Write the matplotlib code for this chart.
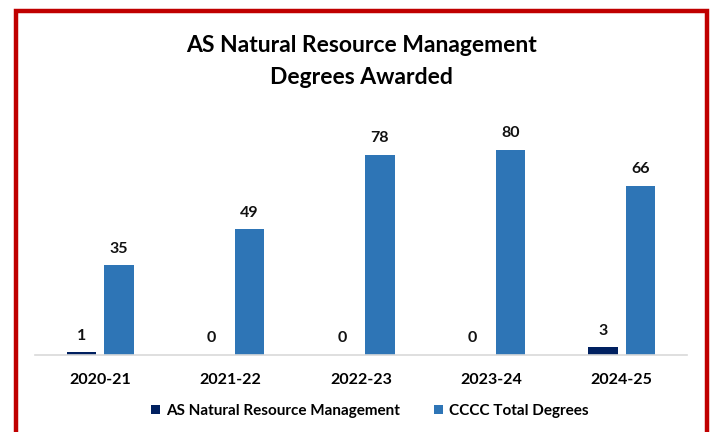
import numpy as np
import matplotlib.pyplot as plt
from matplotlib.patches import Rectangle

# dados
years = ['2020-21', '2021-22', '2022-23', '2023-24', '2024-25']
nrm = [1, 0, 0, 0, 3]
total = [35, 49, 78, 80, 66]
series_names = ['AS Natural Resource Management', 'CCCC Total Degrees']
colors = ['#002060', '#2E75B6']

plt.rcParams['font.family'] = ['Lato', 'DejaVu Sans']

fig = plt.figure(figsize=(7.11, 4.32), dpi=100)
ax = fig.add_axes([35/711, 1-355/432, 652/711, 235/432])

x = np.arange(len(years))
w = 0.225
b1 = ax.bar(x - 0.145, nrm, w, color=colors[0], label=series_names[0])
b2 = ax.bar(x + 0.145, total, w, color=colors[1], label=series_names[1])

for bars, vals in [(b1, nrm), (b2, total)]:
    for r, v in zip(bars, vals):
        ax.text(r.get_x() + r.get_width()/2, v + 3.8, str(v), ha='center', va='bottom',
                fontsize=11.5, fontweight='bold', color='#111111')

ax.set_xlim(-0.5, len(years) - 0.5)
ax.set_ylim(0, 91.7)
ax.set_xticks(x)
ax.set_xticklabels(years, fontsize=11.5, fontweight='bold')
ax.tick_params(axis='x', length=0, pad=13)
ax.set_yticks([])
for s in ['top', 'right', 'left']:
    ax.spines[s].set_visible(False)
ax.spines['bottom'].set_color('#d9d9d9')
ax.spines['bottom'].set_linewidth(1.2)

fig.text(361/711, 1-46/432, 'AS Natural Resource Management', ha='center', va='center',
         fontsize=16.5, fontweight='bold')
fig.text(361/711, 1-77/432, 'Degrees Awarded', ha='center', va='center',
         fontsize=16.5, fontweight='bold')

fig.legend(loc='center', bbox_to_anchor=(370/711, 1-411/432), ncol=2, frameon=False,
           handlelength=0.6, handleheight=0.6, columnspacing=2.2,
           handletextpad=0.4, prop={'weight': 'bold', 'size': 11})

# moldura vermelha
fig.patches.append(Rectangle((16/711, -0.05), 691/711, 1.05 - 11/432, transform=fig.transFigure,
                             fill=False, edgecolor='#C00000', linewidth=3.2))

fig.savefig('out.png', dpi=100)
